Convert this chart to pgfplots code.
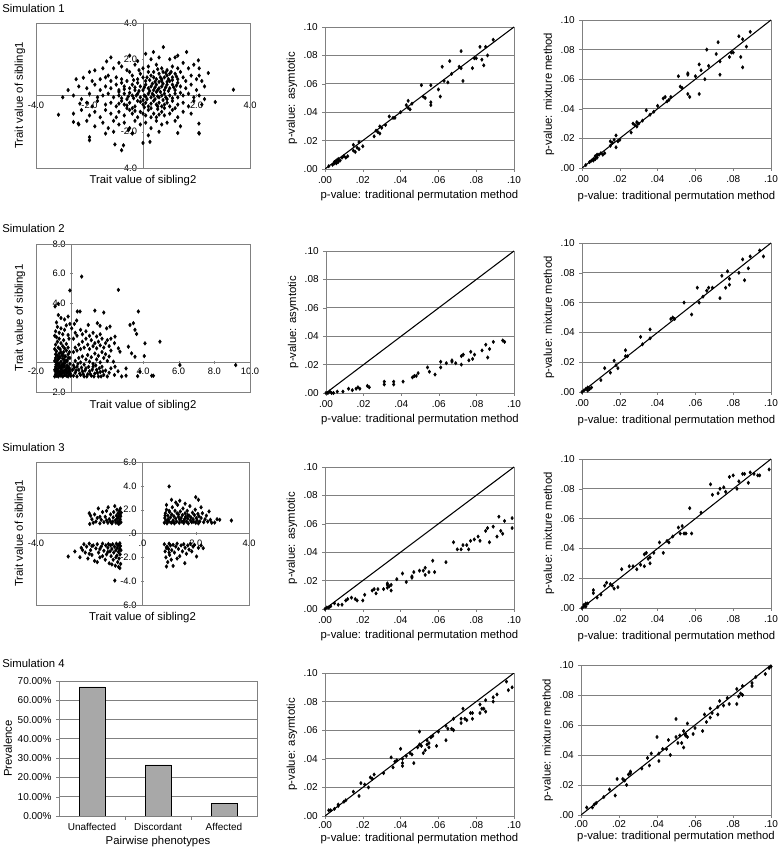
\documentclass[border=0pt]{standalone}
\usepackage{fontspec}
\setmainfont{Liberation Sans}
\usepackage{pgfplots}
\pgfplotsset{compat=1.18}
\definecolor{frame}{gray}{0.5}
\definecolor{barfill}{gray}{0.66}
\newcommand{\lblfont}{\fontsize{8.5}{10}\selectfont}
\pgfplotsset{
  base/.style={scale only axis, anchor=south west, /pgf/number format/assume math mode=true,
    tick label style={font=\fontsize{7.5}{8}\selectfont, text=black},
    label style={font=\lblfont},
    clip mode=individual},
  pv/.style={base, xmin=0, xmax=0.1, ymin=0, ymax=0.1,
    xtick={0,0.02,0.04,0.06,0.08,0.1}, ytick={0,0.02,0.04,0.06,0.08,0.1},
    xticklabels={.00,.02,.04,.06,.08,.10}, yticklabels={.00,.02,.04,.06,.08,.10},
    ymajorgrids, grid style={frame, line width=0.6pt},
    axis line style={frame, line width=0.6pt}, tick style={frame}, tick align=outside, tick pos=left, major tick length=2pt,
    xlabel={p-value: traditional permutation method},
    ylabel style={at={(axis description cs:-0.175,0.5)}, anchor=center, font=\lblfont},
    xlabel style={at={(axis description cs:0.5,-0.19)}, anchor=center, font=\lblfont}},
  sc/.style={base, axis lines=middle, axis line style={frame,-,line width=0.6pt}, enlargelimits=false, tick style={frame}, major tick length=2pt,
    hide obscured x ticks=false, hide obscured y ticks=false,
    tick label style={font=\fontsize{7}{8}\selectfont},
    xlabel={Trait value of sibling2}, ylabel={Trait value of sibling1},
    xlabel style={at={(axis description cs:0.5,-0.09)}, anchor=center, font=\lblfont},
    ylabel style={at={(axis description cs:-0.075,0.5)}, anchor=center, rotate=90, font=\lblfont}},
  pts/.style={only marks, mark=diamond*, mark size=1.25pt, black, mark options={fill=black, draw=black}},
  spts/.style={only marks, mark=diamond*, mark size=1.35pt, black, mark options={fill=black, draw=black}},
  diag/.style={black, line width=0.8pt, no marks},
}
\begin{document}
\begin{tikzpicture}
\path[use as bounding box] (0,0) rectangle (585pt,637.5pt);
\node[anchor=base west, inner sep=0, font=\lblfont] at (1.5pt,628pt) {Simulation 1};
\node[anchor=base west, inner sep=0, font=\lblfont] at (1.5pt,463pt) {Simulation 2};
\node[anchor=base west, inner sep=0, font=\lblfont] at (1.5pt,299pt) {Simulation 3};
\node[anchor=base west, inner sep=0, font=\lblfont] at (1.5pt,137pt) {Simulation 4};

% ---------------- Row 1 ----------------
\begin{axis}[sc, at={(27pt,511.5pt)}, width=160.5pt, height=108.75pt,
  xmin=-4, xmax=4, ymin=-4, ymax=4,
  xtick={-4,-2,2,4}, xticklabels={-4.0,-2.0,2.0,4.0},
  ytick={-4,-2,2,4}, yticklabels={-4.0,-2.0,2.0,4.0}]
\draw[frame, line width=0.6pt] (rel axis cs:0,0) rectangle (rel axis cs:1,1);
\addplot[spts] coordinates {
(-3.16,-1.06)(-2.6,-1.46)(-2.23,0.98)(-1.8,1.39)(-1.36,1.88)(-2.0,-2.47)(-1.05,-2.7)(-0.8,-3.02)(-0.73,-2.75)(0,-2.62)(0.26,-2.56)(0.76,2.67)(0.39,2.4)(1.63,2.4)(2.07,1.94)(2.44,1.24)(3.38,0.32)(2.7,-0.36)(2.09,-1.55)(2.09,-2.07)(1.3,-2.07)(-0.39,-2.07)(-0.55,-1.92)(-2.36,-0.45)(-2.42,-1.55)
(-1.2,2.1)(-0.5,2.2)(-0.2,1.9)(0.1,2.3)(0.6,2.1)(1.0,2.0)(1.2,2.1)(1.3,2.2)(-0.9,1.8)(0.3,2.0)(1.5,1.8)(1.9,1.7)
(-2.0,1.3)(-1.5,1.5)(-1.1,1.5)(-0.8,1.6)(-0.6,1.4)(-0.3,1.7)(0.0,1.5)(0.2,1.6)(0.5,1.7)(0.7,1.5)(0.9,1.4)(1.1,1.6)(1.3,1.5)(1.4,1.3)(1.7,1.5)(2.1,1.5)(2.1,1.1)(-0.1,1.2)(0.4,1.3)(1.0,1.2)(-1.3,1.1)
(-2.5,0.9)(-1.9,0.8)(-1.6,0.9)(-1.4,1.0)(-1.2,0.8)(-1.0,1.0)(-0.8,0.9)(-0.6,0.8)(-0.4,1.1)(-0.2,0.9)(0.0,1.0)(0.1,0.8)(0.3,1.1)(0.5,0.9)(0.6,1.2)(0.7,0.8)(0.8,1.0)(0.9,1.1)(1.0,0.8)(1.1,1.0)(1.2,1.2)(1.3,0.9)(1.5,1.0)(1.6,0.8)(1.8,1.1)(2.0,0.9)(2.2,0.8)(0.2,1.3)(-0.5,1.3)(0.75,1.3)(1.05,1.3)(0.45,0.75)
(-2.8,0.3)(-2.4,0.5)(-2.1,0.4)(-1.8,0.6)(-1.6,0.3)(-1.4,0.5)(-1.2,0.4)(-1.0,0.6)(-0.9,0.3)(-0.7,0.5)(-0.5,0.4)(-0.4,0.6)(-0.3,0.3)(-0.1,0.5)(0.0,0.3)(0.1,0.6)(0.2,0.4)(0.3,0.5)(0.4,0.3)(0.5,0.6)(0.6,0.4)(0.7,0.5)(0.8,0.3)(0.9,0.6)(1.0,0.4)(1.1,0.6)(1.2,0.3)(1.4,0.5)(1.6,0.4)(1.8,0.6)(2.0,0.3)(2.3,0.5)(0.35,0.65)(0.65,0.2)(-0.2,0.7)(1.3,0.7)
(-3.0,-0.1)(-2.6,0.0)(-2.3,-0.2)(-2.0,0.1)(-1.7,-0.1)(-1.5,0.0)(-1.3,0.1)(-1.1,-0.1)(-0.9,0.0)(-0.7,0.1)(-0.6,-0.2)(-0.4,0.0)(-0.2,0.1)(-0.1,-0.1)(0.05,0.0)(0.2,0.1)(0.3,-0.1)(0.4,0.0)(0.5,0.2)(0.6,-0.1)(0.7,0.0)(0.8,0.1)(0.9,-0.2)(1.0,0.0)(1.2,0.1)(1.3,-0.1)(1.5,0.0)(1.7,0.1)(1.9,-0.1)(2.1,0.0)(2.3,-0.2)(0.15,-0.2)
(-2.1,-0.4)(-1.9,-0.6)(-1.7,-0.3)(-1.4,-0.5)(-1.2,-0.4)(-1.0,-0.6)(-0.8,-0.3)(-0.7,-0.5)(-0.5,-0.4)(-0.3,-0.6)(-0.2,-0.3)(0.0,-0.5)(0.1,-0.4)(0.2,-0.6)(0.4,-0.3)(0.5,-0.5)(0.6,-0.4)(0.7,-0.6)(0.9,-0.4)(1.0,-0.6)(1.1,-0.3)(1.3,-0.5)(1.5,-0.4)(1.7,-0.6)(1.9,-0.3)(2.2,-0.5)(-0.6,-0.7)(0.3,-0.7)(0.8,-0.7)
(-2.6,-1.0)(-2.3,-0.8)(-2.0,-1.1)(-1.8,-0.9)(-1.6,-1.2)(-1.4,-0.8)(-1.2,-1.0)(-1.0,-1.2)(-0.9,-0.9)(-0.7,-1.1)(-0.5,-0.8)(-0.4,-1.0)(-0.2,-1.2)(-0.1,-0.9)(0.1,-1.1)(0.2,-0.8)(0.4,-1.0)(0.5,-1.2)(0.7,-0.9)(0.8,-1.1)(1.0,-1.0)(1.1,-0.8)(1.3,-1.2)(1.5,-0.9)(1.8,-1.0)(0.55,-0.75)
(-2.4,-1.6)(-2.1,-1.4)(-1.8,-1.7)(-1.5,-1.5)(-1.3,-1.8)(-1.1,-1.4)(-0.9,-1.6)(-0.7,-1.5)(-0.5,-1.8)(-0.3,-1.4)(-0.1,-1.6)(0.1,-1.5)(0.3,-1.8)(0.5,-1.4)(0.7,-1.6)(0.9,-1.5)(1.2,-1.4)(1.4,-1.7)
(-2.0,-2.3)(-1.4,-2.1)(-0.4,-2.1)(0.6,-2.0)(2.1,-2.1)(-1.1,-2.0)(0.2,-2.2)
(-0.9,0.2)(-0.7,0.35)(-0.5,0.15)(-0.3,0.45)(-0.15,0.25)(0.05,0.45)(0.25,0.25)(0.45,0.45)(0.55,0.3)(0.75,0.65)(0.85,0.45)(0.95,0.25)(1.15,0.45)(1.25,0.55)(-0.8,-0.15)(-0.55,-0.05)(-0.35,-0.15)(-0.25,0.0)(0.0,-0.25)(0.1,-0.05)(0.35,0.1)(0.45,-0.2)(0.55,-0.05)(0.75,-0.25)(0.85,-0.1)(1.1,-0.15)(1.4,0.15)(-0.9,-0.45)(-0.6,-0.55)(-0.4,-0.7)(-0.1,-0.35)(0.05,-0.65)(0.3,-0.45)(0.55,-0.6)(0.8,-0.5)(1.2,-0.7)(-0.3,-0.85)(0.0,-1.0)(0.3,-1.2)(0.6,-1.05)(-0.8,0.7)(-0.35,0.85)(0.15,1.0)(0.4,1.0)(0.65,1.0)(0.95,0.9)(1.25,1.05)(0.55,1.45)(0.85,1.25)(-0.15,1.4)(0.25,0.85)(0.7,0.9)(0.6,0.75)(0.9,0.75)(1.1,0.85)
};
\end{axis}

\begin{axis}[pv, at={(243.75pt,510.75pt)}, width=141.75pt, height=106.5pt, ylabel={p-value: asymtotic}]
\addplot[diag] coordinates {(0,0) (0.1,0.1)};
\addplot[pts] coordinates {
(0.002,0.002)(0.004,0.003)(0.005,0.004)(0.005,0.005)(0.006,0.004)(0.006,0.006)(0.007,0.007)(0.007,0.005)(0.008,0.006)(0.009,0.008)(0.010,0.009)(0.011,0.008)(0.012,0.009)
(0.015,0.017)(0.015,0.013)(0.016,0.012)(0.017,0.015)(0.018,0.019)(0.018,0.014)(0.020,0.016)
(0.026,0.023)(0.027,0.027)(0.028,0.026)(0.029,0.030)(0.029,0.025)(0.030,0.029)(0.032,0.031)(0.034,0.037)(0.036,0.036)(0.037,0.036)
(0.040,0.040)(0.043,0.045)(0.044,0.048)(0.044,0.043)(0.045,0.042)(0.046,0.046)
(0.051,0.059)(0.052,0.051)(0.053,0.050)(0.056,0.059)(0.056,0.047)(0.056,0.045)(0.060,0.056)(0.061,0.051)(0.062,0.072)(0.063,0.062)(0.065,0.061)(0.066,0.076)(0.067,0.067)
(0.071,0.072)(0.072,0.083)(0.072,0.071)(0.073,0.062)(0.078,0.071)(0.079,0.078)(0.080,0.078)(0.082,0.086)(0.083,0.077)(0.084,0.073)(0.085,0.086)(0.086,0.080)(0.089,0.091)
};
\end{axis}

\begin{axis}[pv, at={(436.5pt,511.5pt)}, width=141.75pt, height=111pt, ylabel={p-value: mixture method}]
\addplot[diag] coordinates {(0,0) (0.1,0.1)};
\addplot[pts] coordinates {
(0.002,0.002)(0.004,0.004)(0.005,0.005)(0.006,0.006)(0.006,0.005)(0.007,0.008)(0.007,0.006)(0.008,0.007)(0.008,0.009)(0.009,0.009)(0.010,0.010)(0.011,0.009)(0.012,0.010)
(0.015,0.018)(0.015,0.015)(0.016,0.017)(0.017,0.019)(0.018,0.022)(0.018,0.014)(0.019,0.018)(0.020,0.019)
(0.026,0.024)(0.027,0.030)(0.028,0.029)(0.029,0.031)(0.029,0.028)(0.030,0.030)(0.032,0.032)(0.034,0.039)(0.036,0.036)(0.038,0.038)
(0.040,0.042)(0.043,0.047)(0.044,0.048)(0.045,0.045)(0.046,0.046)(0.047,0.048)
(0.051,0.062)(0.052,0.055)(0.053,0.054)(0.056,0.064)(0.056,0.063)(0.056,0.050)(0.057,0.048)(0.060,0.062)(0.062,0.050)(0.062,0.070)(0.063,0.066)(0.065,0.060)(0.066,0.080)(0.067,0.069)
(0.071,0.077)(0.072,0.085)(0.073,0.072)(0.073,0.063)(0.078,0.075)(0.079,0.078)(0.080,0.078)(0.083,0.089)(0.084,0.075)(0.085,0.068)(0.085,0.087)(0.087,0.082)(0.089,0.092)
};
\end{axis}

% ---------------- Row 2 ----------------
\begin{axis}[sc, at={(27pt,343.5pt)}, width=160.5pt, height=111pt,
  xmin=-2, xmax=10, ymin=-2, ymax=8,
  xtick={-2,4,6,8,10}, xticklabels={-2.0,4.0,6.0,8.0,10.0},
  ytick={-2,4,6,8}, yticklabels={-2.0,4.0,6.0,8.0}]
\draw[frame, line width=0.6pt] (rel axis cs:0,0) rectangle (rel axis cs:1,1);
\addplot[spts] coordinates {
(0.56,5.8)(-0.1,4.86)(2.62,4.9)(-0.93,3.78)(-0.75,3.96)(0.32,3.44)(0.47,3.44)(1.3,3.5)(1.8,3.37)(3.74,3.44)(3.27,2.53)(3.46,2.65)(3.55,2.2)(3.64,1.92)(2.15,2.42)(1.96,2.3)(1.59,2.47)(1.44,2.65)(0.93,2.53)(0.28,2.83)(4.95,1.4)(4.11,1.29)(3.18,1.06)(2.62,0.95)(2.43,1.74)(2.71,0.72)(3.36,0.61)(3.55,0.38)(4.07,0.43)(9.2,-0.18)(3.05,-0.41)(3.05,-0.9)(3.83,-0.63)(3.7,-0.93)(4.49,-0.9)(4.58,-0.9)(6.07,-0.18)(2.43,-0.29)(2.34,0.05)
(-0.95,-0.95)(-0.9,-0.8)(-0.85,-0.9)(-0.8,-0.7)(-0.75,-0.95)(-0.7,-0.85)(-0.65,-0.6)(-0.6,-0.9)(-0.55,-0.75)(-0.5,-0.95)(-0.45,-0.65)(-0.4,-0.85)(-0.35,-0.5)(-0.3,-0.9)(-0.25,-0.7)(-0.2,-0.95)(-0.15,-0.8)(-0.1,-0.6)(-0.05,-0.9)
(-0.95,-0.5)(-0.9,-0.3)(-0.85,-0.45)(-0.8,-0.2)(-0.75,-0.4)(-0.7,-0.1)(-0.65,-0.3)(-0.6,-0.45)(-0.55,-0.15)(-0.5,-0.35)(-0.45,-0.05)(-0.4,-0.25)(-0.3,-0.4)(-0.25,-0.2)(-0.15,-0.35)(-0.1,-0.1)
(-0.95,0.1)(-0.9,0.3)(-0.85,0.0)(-0.8,0.45)(-0.75,0.2)(-0.7,0.6)(-0.65,0.35)(-0.6,0.05)(-0.55,0.5)(-0.5,0.25)(-0.45,0.7)(-0.4,0.15)(-0.35,0.4)(-0.3,0.8)(-0.25,0.1)(-0.2,0.55)(-0.1,0.3)
(-0.95,0.9)(-0.9,1.2)(-0.85,0.75)(-0.8,1.4)(-0.75,1.0)(-0.7,1.6)(-0.65,0.9)(-0.6,1.3)(-0.5,1.1)(-0.45,1.5)(-0.4,0.95)(-0.3,1.25)(-0.2,1.0)(-0.15,1.6)
(-0.95,1.8)(-0.9,2.1)(-0.85,1.7)(-0.8,2.4)(-0.7,2.0)(-0.6,2.3)(-0.5,1.9)(-0.4,2.2)(-0.3,2.5)(-0.2,1.85)(-0.1,2.6)(-0.85,2.7)(-0.75,3.2)(-0.6,3.0)(-0.4,2.9)(-0.2,3.1)
(0.1,-0.9)(0.2,-0.7)(0.3,-0.95)(0.4,-0.5)(0.5,-0.85)(0.6,-0.6)(0.7,-0.95)(0.8,-0.4)(0.9,-0.8)(1.0,-0.6)(1.1,-0.9)(1.2,-0.3)(1.3,-0.75)(1.4,-0.5)(1.5,-0.95)(1.6,-0.65)(1.7,-0.3)(1.8,-0.85)(1.9,-0.55)(2.0,-0.95)(2.1,-0.7)(2.2,-0.4)(2.4,-0.85)(2.6,-0.6)(2.8,-0.95)
(0.1,-0.2)(0.2,0.1)(0.3,-0.3)(0.4,0.3)(0.5,0.0)(0.6,0.4)(0.7,-0.15)(0.8,0.2)(0.9,0.5)(1.0,0.05)(1.1,0.35)(1.2,-0.1)(1.3,0.6)(1.4,0.2)(1.5,0.45)(1.6,0.0)(1.7,0.7)(1.8,0.3)(1.9,0.55)(2.0,0.1)(2.1,0.4)(2.2,0.8)
(0.1,0.7)(0.2,1.0)(0.3,0.8)(0.4,1.2)(0.5,0.9)(0.6,1.4)(0.7,1.0)(0.8,1.6)(0.9,1.2)(1.0,0.9)(1.1,1.5)(1.2,1.1)(1.3,1.3)(1.4,0.95)(1.5,1.4)(1.6,1.15)(1.7,1.6)(1.8,1.0)(1.9,1.3)(2.0,1.5)(2.1,1.1)(2.2,1.6)(2.4,1.3)
(0.1,1.6)(0.2,2.0)(0.3,1.8)(0.5,2.2)(0.6,1.9)(0.8,2.1)(1.0,1.8)(1.2,2.0)(1.4,1.75)(1.6,1.9)(0.0,2.3)(0.15,2.6)
(-0.92,-0.6)(-0.88,-0.15)(-0.82,-0.55)(-0.78,-0.05)(-0.72,-0.65)(-0.68,-0.25)(-0.62,-0.75)(-0.58,-0.3)(-0.52,-0.6)(-0.48,-0.2)(-0.42,-0.55)(-0.38,-0.05)(-0.32,-0.7)(-0.28,-0.5)(-0.22,-0.35)(-0.18,-0.6)(-0.12,-0.45)(-0.08,-0.75)(-0.9,0.55)(-0.8,0.15)(-0.7,0.35)(-0.6,0.7)(-0.5,0.5)(-0.4,0.4)(-0.3,0.1)(-0.2,0.3)(-0.12,0.7)(0.05,-0.5)(0.15,-0.35)(0.25,-0.55)(0.35,-0.1)(0.45,-0.75)(0.55,-0.35)(0.65,-0.8)(0.75,-0.55)(0.85,-0.95)(0.95,-0.3)(1.05,-0.8)(1.15,-0.5)(1.25,-0.95)(1.35,-0.2)(1.45,-0.7)(1.55,-0.4)(1.65,-0.95)(1.75,-0.6)
};
\end{axis}

\begin{axis}[pv, at={(244.5pt,342.75pt)}, width=141pt, height=106.5pt, ylabel={p-value: asymtotic}]
\addplot[diag] coordinates {(0,0) (0.1,0.1)};
\addplot[pts] coordinates {
(0.000,0.000)(0.001,0.000)(0.002,0.001)(0.003,0.000)(0.004,0.000)(0.006,0.001)(0.009,0.001)(0.012,0.003)(0.014,0.002)(0.016,0.003)(0.017,0.004)(0.018,0.003)(0.022,0.005)(0.023,0.004)(0.031,0.008)(0.031,0.006)(0.036,0.008)(0.036,0.006)(0.041,0.008)(0.046,0.011)(0.047,0.012)(0.048,0.012)(0.049,0.014)(0.054,0.018)(0.055,0.015)(0.058,0.013)(0.061,0.022)(0.061,0.018)(0.064,0.021)(0.067,0.023)(0.067,0.022)(0.069,0.021)(0.072,0.026)(0.072,0.020)(0.073,0.027)(0.076,0.023)(0.077,0.029)(0.078,0.024)(0.079,0.027)(0.083,0.030)(0.085,0.034)(0.086,0.025)(0.087,0.031)(0.089,0.036)(0.094,0.037)(0.095,0.036)
};
\end{axis}

\begin{axis}[pv, at={(436.5pt,343.5pt)}, width=141.75pt, height=111.75pt, ylabel={p-value: mixture method}]
\addplot[diag] coordinates {(0,0) (0.1,0.1)};
\addplot[pts] coordinates {
(0.000,0.000)(0.001,0.001)(0.002,0.002)(0.003,0.003)(0.003,0.001)(0.004,0.002)(0.005,0.003)(0.010,0.008)(0.012,0.016)(0.015,0.013)(0.017,0.021)(0.018,0.018)(0.019,0.016)(0.023,0.028)(0.023,0.024)(0.024,0.024)(0.031,0.037)(0.032,0.032)(0.036,0.042)(0.036,0.036)(0.047,0.049)(0.048,0.050)(0.049,0.049)(0.054,0.060)(0.058,0.052)(0.061,0.070)(0.062,0.060)(0.064,0.064)(0.066,0.068)(0.067,0.070)(0.069,0.070)(0.073,0.063)(0.074,0.078)(0.076,0.070)(0.077,0.081)(0.078,0.072)(0.078,0.076)(0.083,0.080)(0.085,0.089)(0.086,0.075)(0.088,0.083)(0.089,0.091)(0.094,0.095)(0.096,0.091)
};
\end{axis}

% ---------------- Row 3 ----------------
\begin{axis}[sc, at={(27pt,183.75pt)}, width=159.75pt, height=107.25pt,
  xmin=-4, xmax=4, ymin=-6, ymax=6,
  xtick={-4,0,2,4}, xticklabels={-4.0,.0,2.0,4.0},
  ytick={-6,-4,-2,0,2,4,6}, yticklabels={-6.0,-4.0,-2.0,.0,2.0,4.0,6.0}]
\draw[frame, line width=0.6pt] (rel axis cs:0,0) rectangle (rel axis cs:1,1);
\addplot[spts] coordinates {
(-2.0,1.7)(-1.98,0.8)(-1.95,1.5)(-1.9,1.2)(-1.85,0.9)(-1.8,1.6)(-1.75,1.0)(-1.7,1.3)(-1.66,2.1)(-1.6,0.85)(-1.55,1.15)(-1.5,1.8)(-1.45,0.95)(-1.4,1.4)(-1.35,1.9)(-1.3,0.9)(-1.29,2.2)(-1.25,1.2)(-1.2,1.6)(-1.15,0.85)(-1.12,1.0)(-1.1,1.35)(-1.08,1.8)(-1.04,2.3)(-1.02,1.1)(-1.0,0.9)(-0.98,1.5)(-0.96,2.0)(-0.95,1.25)(-0.93,0.95)(-0.92,1.7)(-0.9,1.4)(-0.88,1.05)(-0.87,1.9)(-0.86,0.85)(-0.85,1.6)(-0.84,1.2)(-0.83,2.1)(-0.82,1.45)(-0.81,0.95)(-0.8,1.75)(-1.2,1.0)(-1.6,1.4)(-1.35,1.1)(-0.9,0.82)
(0.82,0.9)(0.84,1.3)(0.86,1.7)(0.88,1.1)(0.9,2.0)(0.92,0.85)(0.95,1.5)(0.97,1.2)(1.0,3.95)(1.0,1.0)(1.02,1.8)(1.05,1.35)(1.08,0.9)(1.09,2.83)(1.1,1.6)(1.12,2.2)(1.15,1.1)(1.18,1.45)(1.2,0.85)(1.22,1.9)(1.25,1.25)(1.28,1.0)(1.3,1.7)(1.32,2.4)(1.35,1.4)(1.38,0.9)(1.4,2.75)(1.4,1.15)(1.42,1.85)(1.45,1.3)(1.48,1.0)(1.5,1.55)(1.52,2.1)(1.55,0.88)(1.58,1.2)(1.6,1.7)(1.62,1.4)(1.65,1.0)(1.68,1.9)(1.7,1.25)(1.72,0.85)(1.75,1.5)(1.78,2.3)(1.8,1.1)(1.82,1.35)(1.85,0.95)(1.88,1.75)(1.9,1.2)(1.92,1.0)(1.95,1.55)(1.98,2.0)(2.0,3.05)(2.0,0.9)(2.02,1.3)(2.05,1.1)(2.08,1.65)(2.1,2.83)(2.1,0.85)(2.12,1.45)(2.15,1.0)(2.2,1.3)(2.25,1.7)(2.3,0.95)(2.35,1.2)(2.4,1.5)(2.45,1.0)(2.5,1.85)(2.55,1.15)(2.6,0.9)(2.71,0.92)(2.8,1.2)(2.9,1.15)(3.34,1.09)(0.9,2.4)(1.25,2.6)(1.6,2.5)(2.2,2.2)(1.0,1.9)(1.15,0.95)(1.35,1.6)(1.55,1.05)(1.7,1.55)(0.85,1.5)(0.95,1.05)
(-2.79,-1.93)(-2.54,-1.51)(-2.35,-1.99)(-2.3,-1.2)(-2.2,-0.9)(-2.15,-1.6)(-2.1,-1.1)(-2.05,-2.1)(-2.0,-0.85)(-1.95,-1.4)(-1.9,-1.8)(-1.85,-1.0)(-1.8,-2.3)(-1.75,-1.25)(-1.7,-0.9)(-1.65,-1.6)(-1.6,-2.0)(-1.55,-1.1)(-1.5,-0.85)(-1.45,-1.45)(-1.4,-2.2)(-1.38,-1.0)(-1.35,-1.75)(-1.3,-1.2)(-1.28,-0.88)(-1.25,-2.5)(-1.22,-1.5)(-1.2,-1.0)(-1.18,-1.9)(-1.15,-1.3)(-1.12,-0.9)(-1.1,-2.2)(-1.08,-1.6)(-1.05,-1.1)(-1.04,-3.95)(-1.02,-2.7)(-1.0,-1.4)(-0.98,-0.85)(-0.96,-1.85)(-0.95,-1.2)(-0.93,-2.4)(-0.92,-1.0)(-0.9,-1.55)(-0.88,-2.1)(-0.87,-0.9)(-0.86,-1.3)(-0.85,-2.9)(-0.84,-1.75)(-0.83,-1.05)(-0.82,-2.55)(-0.81,-1.4)(-2.25,-1.4)(-1.9,-1.05)(-1.6,-1.3)(-1.3,-1.55)(-1.5,-1.9)(-1.15,-2.6)(-2.0,-1.7)(-1.7,-2.4)(-1.0,-2.0)(-0.9,-2.8)(-0.85,-0.82)
(0.82,-0.9)(0.85,-1.5)(0.88,-2.0)(0.9,-2.77)(0.92,-1.1)(0.95,-2.4)(0.98,-1.3)(1.0,-0.85)(1.02,-1.8)(1.05,-1.0)(1.08,-2.2)(1.1,-1.4)(1.15,-2.72)(1.15,-0.95)(1.2,-1.6)(1.25,-1.1)(1.3,-0.85)(1.35,-1.3)(1.4,-1.9)(1.45,-1.0)(1.5,-1.5)(1.55,-0.9)(1.59,-2.49)(1.6,-1.2)(1.65,-1.7)(1.7,-1.0)(1.75,-1.35)(1.8,-0.85)(1.85,-1.5)(1.9,-1.1)(1.95,-0.95)(2.03,-1.93)(2.1,-1.2)(2.2,-1.0)(2.28,-1.23)(1.0,-1.6)(1.3,-2.1)(0.9,-1.2)
};
\end{axis}

\begin{axis}[pv, at={(243.75pt,180.75pt)}, width=141.75pt, height=106.5pt, ylabel={p-value: asymtotic}]
\addplot[diag] coordinates {(0,0) (0.1,0.1)};
\addplot[pts] coordinates {
(0.000,0.000)(0.001,0.001)(0.002,0.001)(0.003,0.002)(0.005,0.004)(0.007,0.003)(0.009,0.003)(0.011,0.006)(0.012,0.007)(0.014,0.008)(0.016,0.007)(0.017,0.006)(0.020,0.006)(0.021,0.010)(0.025,0.013)(0.026,0.014)(0.027,0.011)(0.028,0.014)(0.031,0.014)(0.033,0.018)(0.033,0.017)(0.033,0.015)(0.034,0.016)(0.035,0.013)(0.035,0.017)(0.038,0.021)(0.041,0.025)(0.043,0.019)(0.046,0.022)(0.046,0.023)(0.047,0.026)(0.050,0.027)(0.052,0.027)(0.053,0.024)(0.053,0.029)(0.055,0.026)(0.057,0.034)(0.058,0.026)(0.064,0.033)(0.068,0.047)(0.070,0.042)(0.072,0.042)(0.073,0.045)(0.075,0.045)(0.076,0.042)(0.077,0.048)(0.079,0.049)(0.081,0.051)(0.082,0.048)(0.085,0.055)(0.086,0.057)(0.087,0.047)(0.089,0.058)(0.091,0.051)(0.092,0.065)(0.093,0.055)(0.094,0.053)(0.095,0.062)(0.099,0.064)(0.099,0.057)
};
\end{axis}

\begin{axis}[pv, at={(436.5pt,181.5pt)}, width=141.75pt, height=111.75pt, ylabel={p-value: mixture method}]
\addplot[diag] coordinates {(0,0) (0.1,0.1)};
\addplot[pts] coordinates {
(0.000,0.000)(0.001,0.001)(0.001,0.002)(0.002,0.001)(0.002,0.003)(0.003,0.003)(0.006,0.012)(0.006,0.010)(0.008,0.007)(0.010,0.009)(0.012,0.015)(0.013,0.017)(0.015,0.016)(0.016,0.015)(0.017,0.013)(0.019,0.014)(0.021,0.026)(0.025,0.028)(0.027,0.028)(0.029,0.026)(0.031,0.029)(0.033,0.028)(0.033,0.036)(0.034,0.037)(0.035,0.033)(0.036,0.030)(0.036,0.034)(0.038,0.037)(0.041,0.044)(0.043,0.037)(0.045,0.045)(0.046,0.044)(0.048,0.048)(0.051,0.054)(0.052,0.050)(0.053,0.055)(0.054,0.050)(0.055,0.050)(0.057,0.067)(0.058,0.050)(0.063,0.064)(0.068,0.083)(0.069,0.076)(0.072,0.077)(0.073,0.080)(0.075,0.081)(0.076,0.078)(0.078,0.088)(0.080,0.089)(0.082,0.080)(0.083,0.085)(0.085,0.090)(0.086,0.090)(0.088,0.084)(0.089,0.091)(0.091,0.090)(0.093,0.089)(0.094,0.089)(0.099,0.093)
};
\end{axis}

% ---------------- Row 4 ----------------
\begin{axis}[base, at={(44.25pt,25.5pt)}, width=148.5pt, height=101.25pt,
  xmin=-0.5, xmax=2.5, ymin=0, ymax=70, ybar, bar width=19.5pt,
  ytick={0,10,20,30,40,50,60,70},
  yticklabels={0.00\%,10.00\%,20.00\%,30.00\%,40.00\%,50.00\%,60.00\%,70.00\%},
  ymajorgrids, grid style={frame, line width=0.6pt},
  axis line style={frame, line width=0.6pt}, tick style={frame},
  xtick={0,1,2}, xticklabels={Unaffected,Discordant,Affected}, xtick style={draw=none},
  tick align=outside, tick pos=left, major tick length=2pt,
  ylabel={Prevalence}, xlabel={Pairwise phenotypes},
  ylabel style={at={(axis description cs:-0.258,0.5)}, anchor=center, font=\lblfont},
  xlabel style={at={(axis description cs:0.5,-0.193)}, anchor=center, font=\lblfont}]
\addplot[fill=barfill, draw=black, line width=0.5pt] coordinates {(0,66.9) (1,26.5) (2,6.6)};
\draw[frame, line width=0.6pt] (axis cs:0.5,0) -- ([yshift=-3pt]axis cs:0.5,0);
\draw[frame, line width=0.6pt] (axis cs:1.5,0) -- ([yshift=-3pt]axis cs:1.5,0);
\end{axis}

\begin{axis}[pv, at={(243.75pt,25.5pt)}, width=141.75pt, height=107.25pt, ylabel={p-value: asymtotic},
  xticklabel style={yshift=1.5pt},
  xlabel style={at={(axis description cs:0.5,-0.155)}, anchor=center}]
\addplot[diag] coordinates {(0,0) (0.1,0.1)};
\addplot[pts] coordinates {
(0.002,0.004)(0.003,0.004)(0.005,0.005)(0.007,0.007)(0.007,0.008)(0.010,0.010)(0.011,0.011)(0.015,0.017)(0.018,0.014)(0.019,0.023)(0.021,0.022)(0.023,0.020)(0.024,0.027)(0.025,0.026)(0.026,0.029)(0.031,0.030)(0.035,0.041)(0.036,0.034)(0.037,0.038)(0.038,0.039)(0.040,0.047)(0.041,0.040)(0.041,0.035)(0.041,0.037)(0.043,0.042)(0.045,0.044)(0.046,0.043)(0.047,0.037)(0.049,0.048)(0.050,0.059)(0.050,0.050)(0.051,0.049)(0.052,0.044)(0.053,0.046)(0.054,0.050)(0.054,0.053)(0.055,0.048)(0.055,0.051)(0.056,0.055)(0.057,0.056)(0.059,0.049)(0.060,0.059)(0.064,0.053)(0.064,0.063)(0.065,0.061)(0.067,0.061)(0.068,0.068)(0.068,0.060)(0.072,0.065)(0.072,0.068)(0.073,0.075)(0.074,0.068)(0.075,0.067)(0.077,0.072)(0.078,0.072)(0.078,0.068)(0.082,0.078)(0.082,0.072)(0.083,0.075)(0.084,0.075)(0.085,0.073)(0.085,0.081)(0.089,0.080)(0.089,0.083)(0.091,0.085)(0.096,0.094)(0.097,0.088)(0.099,0.090)
};
\end{axis}

\begin{axis}[pv, at={(435.75pt,26.25pt)}, width=142.5pt, height=112.5pt, ylabel={p-value: mixture method},
  xticklabel style={yshift=1.5pt},
  xlabel style={at={(axis description cs:0.5,-0.145)}, anchor=center}]
\addplot[diag] coordinates {(0,0) (0.1,0.1)};
\addplot[pts] coordinates {
(0.003,0.005)(0.006,0.005)(0.007,0.007)(0.008,0.008)(0.012,0.012)(0.015,0.017)(0.018,0.013)(0.019,0.024)(0.022,0.024)(0.023,0.023)(0.024,0.020)(0.025,0.027)(0.026,0.029)(0.026,0.028)(0.032,0.031)(0.035,0.038)(0.036,0.033)(0.037,0.041)(0.040,0.052)(0.041,0.036)(0.041,0.041)(0.043,0.044)(0.045,0.044)(0.046,0.050)(0.047,0.040)(0.050,0.064)(0.050,0.052)(0.051,0.048)(0.052,0.053)(0.053,0.048)(0.054,0.056)(0.054,0.045)(0.055,0.053)(0.055,0.054)(0.056,0.061)(0.056,0.052)(0.059,0.054)(0.060,0.058)(0.064,0.056)(0.065,0.067)(0.066,0.062)(0.068,0.065)(0.068,0.071)(0.069,0.068)(0.072,0.072)(0.072,0.067)(0.073,0.076)(0.075,0.073)(0.077,0.078)(0.078,0.074)(0.082,0.084)(0.082,0.074)(0.083,0.079)(0.084,0.081)(0.085,0.080)(0.085,0.086)(0.090,0.086)(0.090,0.088)(0.092,0.092)(0.097,0.094)(0.099,0.098)(0.100,0.099)
};
\end{axis}
\end{tikzpicture}
\end{document}
